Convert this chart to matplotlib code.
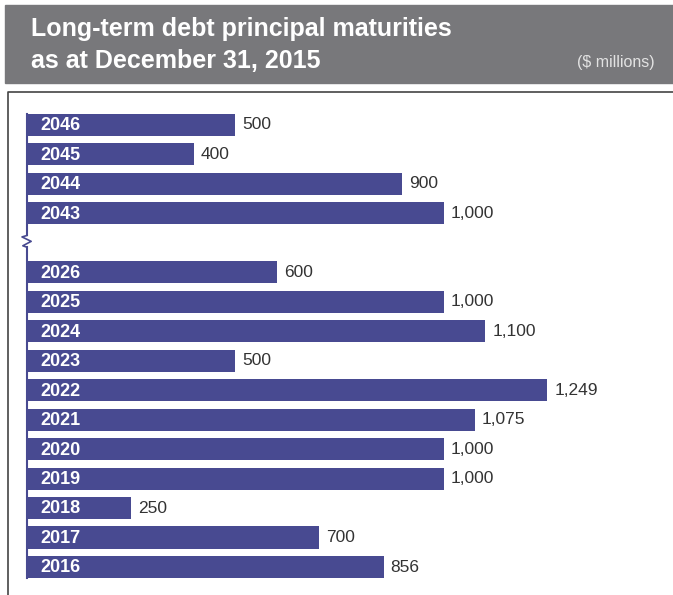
import matplotlib.pyplot as plt
from matplotlib.patches import Rectangle

# Principal maturities, $ millions
years = ['2016', '2017', '2018', '2019', '2020', '2021', '2022', '2023',
         '2024', '2025', '2026', '2043', '2044', '2045', '2046']
amounts = [856, 700, 250, 1000, 1000, 1075, 1249, 500, 1100, 1000, 600,
           1000, 900, 400, 500]
amount_labels = ['856', '700', '250', '1,000', '1,000', '1,075', '1,249', '500',
                 '1,100', '1,000', '600', '1,000', '900', '400', '500']
# row slots, leaving a gap between 2026 and 2043
slots = [0, 1, 2, 3, 4, 5, 6, 7, 8, 9, 10, 12, 13, 14, 15]

W, H = 673, 595
bar_color = '#484a91'
plt.rcParams['font.family'] = ['Liberation Sans', 'DejaVu Sans']

fig = plt.figure(figsize=(W / 100, H / 100), dpi=100)

# grey title band
fig.patches.append(Rectangle((5 / W, 1 - 83 / H), 668 / W, 78 / H,
                             transform=fig.transFigure, color='#78787b', zorder=0))
fig.text(31 / W, 1 - 29 / H, 'Long-term debt principal maturities', color='white',
         fontsize=18, fontweight='bold', va='center', ha='left')
fig.text(31 / W, 1 - 61 / H, 'as at December 31, 2015', color='white',
         fontsize=18, fontweight='bold', va='center', ha='left')
fig.text(655 / W, 1 - 62 / H, '($ millions)', color='#e2e2e2',
         fontsize=11.5, va='center', ha='right')

# frame around the chart
fig.lines.append(plt.Line2D([7.5 / W, 7.5 / W, 1], [0, 1 - 92 / H, 1 - 92 / H],
                            transform=fig.transFigure, color='#444444', lw=1.2))

px = 29.47
y0 = 567
ax = fig.add_axes([27 / W, (H - (y0 + 0.5 * px)) / H, 625 / W, 16 * px / H])
ax.set_xlim(0, 1500)
ax.set_ylim(-0.5, 15.5)
ax.axis('off')

ax.barh(slots, amounts, height=0.75, color=bar_color, zorder=2)
for s, yr, v, lab in zip(slots, years, amounts, amount_labels):
    ax.text(31, s - 0.03, yr, color='white', fontsize=13, fontweight='bold',
            va='center', ha='left', zorder=3)
    ax.text(v + 17, s, lab, color='#333333', fontsize=12.5,
            va='center', ha='left')

# axis line with break mark
ax.plot([0, 0], [15.375, 11.25], color=bar_color, lw=1.5, clip_on=False)
ax.plot([0, 0], [10.85, -0.375], color=bar_color, lw=1.5, clip_on=False)
ax.plot([0, -12, 10, -10, 0], [11.25, 11.2, 11.05, 10.9, 10.85],
        color=bar_color, lw=1.2, clip_on=False)

fig.savefig('out.png', dpi=100)
